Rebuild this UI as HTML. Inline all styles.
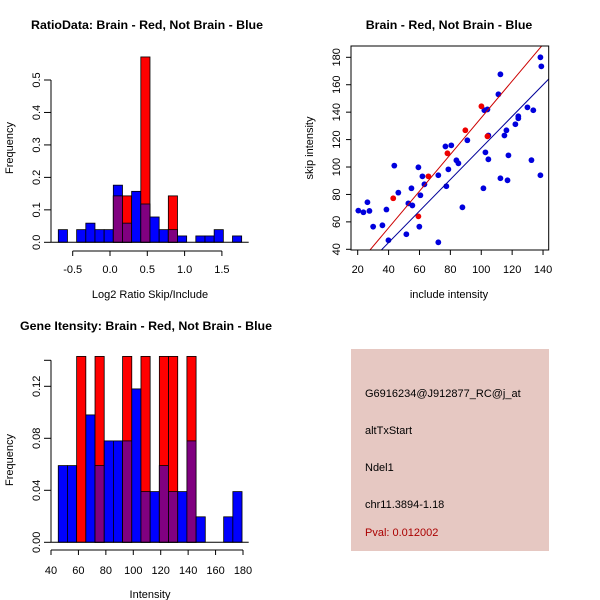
<!DOCTYPE html>
<html><head><meta charset="utf-8"><style>
body{margin:0;background:#fff}
svg{display:block;font-family:"Liberation Sans",sans-serif}
</style></head><body>
<svg id="s" width="600" height="600" viewBox="0 0 600 600">
<rect x="351" y="349" width="198" height="202" fill="#e6c8c2"/>
<g font-size="11" fill="#000">
<text x="365" y="397">G6916234@J912877_RC@j_at</text>
<text x="365" y="434">altTxStart</text>
<text x="365" y="471">Ndel1</text>
<text x="365" y="508">chr11.3894-1.18</text>
<text x="365" y="536" fill="#aa0000">Pval: 0.012002</text>
</g>
<g font-weight="bold" font-size="12.4">
<text x="31" y="29">RatioData: Brain - Red, Not Brain - Blue</text>
<text x="449" y="29" text-anchor="middle">Brain - Red, Not Brain - Blue</text>
<text x="20" y="330">Gene Itensity: Brain - Red, Not Brain - Blue</text>
</g>
<g font-size="11">
<text x="150" y="298" text-anchor="middle">Log2 Ratio Skip/Include</text>
<text x="449" y="298" text-anchor="middle">include intensity</text>
<text x="150" y="598" text-anchor="middle">Intensity</text>
<text transform="translate(13,148) rotate(-90)" text-anchor="middle">Frequency</text>
<text transform="translate(313,148) rotate(-90)" text-anchor="middle">skip intensity</text>
<text transform="translate(13,460) rotate(-90)" text-anchor="middle">Frequency</text>
</g>
</svg>
<script>
// ---- Ratio histogram data ----
const ratioBinStart = -0.693, ratioBinWidth = 0.1229;
const ratioBlue = [0.039,0,0.039,0.059,0.039,0.039,0.176,0.059,0.157,0.118,0.078,0.039,0.039,0.0196,0,0.0196,0.0196,0.039,0,0.0196];
const ratioRed  = [0,0,0,0,0,0,0.143,0.143,0,0.571,0,0,0.143,0,0,0,0,0,0,0];
const ratioXTicks = [-0.5,0.0,0.5,1.0,1.5];
const ratioXLabels = ["-0.5","0.0","0.5","1.0","1.5"];
const ratioYTicks = [0,0.1,0.2,0.3,0.4,0.5];
const ratioYLabels = ["0.0","0.1","0.2","0.3","0.4","0.5"];
// ---- Intensity histogram data ----
const intBinStart = 45.3, intBinWidth = 6.7;
const intBlue = [0.059,0.059,0,0.098,0.059,0.078,0.078,0.078,0.118,0.039,0.039,0.059,0.039,0.039,0.078,0.0196,0,0,0.0196,0.039];
const intRed  = [0,0,0.143,0,0.143,0,0,0.143,0,0.143,0,0.143,0.143,0,0.143,0,0,0,0,0];
const intXTicks = [40,60,80,100,120,140,160,180];
const intYTicks = [0,0.04,0.08,0.12];
const intYLabels = ["0.00","0.04","0.08","0.12"];
// ---- Scatter data ----
const blueX = [20.4,23.7,26.3,27.6,30,36,38.6,39.9,43.7,46.3,51.5,52.8,54.8,55.4,59.3,59.9,60.6,61.9,63.2,72.2,72.2,76.8,77.4,78.7,80.6,83.9,85.2,87.8,91,101.4,102,102.7,104,104.6,104.6,112.4,112.4,111.1,115,116.3,117,117.6,122.1,124,124,129.9,132.5,133.7,138.3,138.3,138.9];
const blueY = [68.2,67,74.3,68,56.5,57.5,69,46.6,101,81.3,51,73.5,84.5,72,99.8,56.5,79.4,93.2,87.4,94,45.1,115,86,98.3,115.8,104.9,102.7,70.6,119.5,84.5,141.4,110.7,142,105.6,123,167.6,91.8,153,123,126.8,90.3,108.5,131.2,137,135.5,143.5,105,141.4,94,180,173.4];
const redX = [43,59.3,65.8,78.1,89.7,100.1,104];
const redY = [77.2,64,93.2,110,126.8,144.3,122.4];
const redFit = [2.1,1.338];   // intercept, slope
const blueFit = [-1.1,1.15];
const scXTicks = [20,40,60,80,100,120,140];
const scYTicks = [40,60,80,100,120,140,160,180];

const NS="http://www.w3.org/2000/svg", svg=document.getElementById('s');
function mk(tag,attrs,parent){const e=document.createElementNS(NS,tag);for(const k in attrs)e.setAttribute(k,attrs[k]);(parent||svg).appendChild(e);return e;}
function txt(x,y,s,anchor,rot){const t=mk('text',{x:x,y:y,'font-size':11,'text-anchor':anchor||'middle'});if(rot)t.setAttribute('transform','rotate(-90 '+x+' '+y+')');t.textContent=s;return t;}

function hist(xs,ys,start,w,blue,red,name){
  for(let i=0;i<blue.length;i++){
    const x0=xs(start+i*w),x1=xs(start+(i+1)*w);
    const layers=[[blue[i],'#0000ff','blue'],[red[i],'#ff0000','red'],[Math.min(blue[i],red[i]),'#800080','overlap']];
    for(const [v,c,k] of layers){ if(v<=0) continue;
      const r=mk('rect',{x:x0,y:ys(v),width:x1-x0,height:ys(0)-ys(v),fill:c,stroke:'#000','stroke-width':0.8});
      
      
    }
  }
}
// Ratio histogram
const rX=v=>72.7+(v+0.5)*74.6, rY=v=>242.3-v*324.6;
hist(rX,rY,ratioBinStart,ratioBinWidth,ratioBlue,ratioRed,'ratio');
mk('line',{x1:51,y1:242.3,x2:248.7,y2:242.3,stroke:'#000'});
mk('line',{x1:rX(-0.5),y1:251,x2:rX(1.5),y2:251,stroke:'#000'});
ratioXTicks.forEach((v,i)=>{mk('line',{x1:rX(v),y1:251,x2:rX(v),y2:256,stroke:'#000'});const t=txt(rX(v),273,ratioXLabels[i]);});
mk('line',{x1:51,y1:rY(0),x2:51,y2:rY(0.5),stroke:'#000'});
ratioYTicks.forEach((v,i)=>{mk('line',{x1:44,y1:rY(v),x2:51,y2:rY(v),stroke:'#000'});const t=txt(40,rY(v),ratioYLabels[i],'middle',true);});

// Intensity histogram
const iX=v=>51+(v-40)*1.3714, iY=v=>542.3-v*1300;
hist(iX,iY,intBinStart,intBinWidth,intBlue,intRed,'intensity');
mk('line',{x1:51,y1:542.3,x2:248.7,y2:542.3,stroke:'#000'});
mk('line',{x1:iX(40),y1:550,x2:iX(180),y2:550,stroke:'#000'});
intXTicks.forEach(v=>{mk('line',{x1:iX(v),y1:550,x2:iX(v),y2:555,stroke:'#000'});const t=txt(iX(v),574,String(v));});
mk('line',{x1:51,y1:iY(0),x2:51,y2:iY(0.14),stroke:'#000'});
[...intYTicks,0.14].forEach(v=>mk('line',{x1:44,y1:iY(v),x2:51,y2:iY(v),stroke:'#000'}));
intYTicks.forEach((v,i)=>{const t=txt(40,iY(v),intYLabels[i],'middle',true);});

// Scatter
const sX=v=>357.7+(v-20)*1.5444, sY=v=>249.3-(v-40)*1.3714;
const L=351,R=548.7,T=46,B=250;
mk('clipPath',{id:'cp'});mk('rect',{x:L,y:T,width:R-L,height:B-T},document.getElementById('cp'));
const pg=mk('g',{'clip-path':'url(#cp)'});
blueX.forEach((v,i)=>{const c=mk('circle',{cx:sX(v),cy:sY(blueY[i]),r:2.9,fill:'#0000dd'},pg);});
redX.forEach((v,i)=>{const c=mk('circle',{cx:sX(v),cy:sY(redY[i]),r:2.9,fill:'#ee0000'},pg);});
[[redFit,'#cc0000','fit-line-red'],[blueFit,'#000099','fit-line-blue']].forEach(([f,c,n])=>{
  const l=mk('line',{x1:sX(0),y1:sY(f[0]),x2:sX(160),y2:sY(f[0]+f[1]*160),stroke:c,'stroke-width':1},pg);
  });
mk('rect',{x:L,y:T,width:R-L,height:B-T,fill:'none',stroke:'#000'});
scXTicks.forEach(v=>{mk('line',{x1:sX(v),y1:B,x2:sX(v),y2:B+5,stroke:'#000'});const t=txt(sX(v),273,String(v));});
scYTicks.forEach(v=>{mk('line',{x1:L-5,y1:sY(v),x2:L,y2:sY(v),stroke:'#000'});const t=txt(340,sY(v),String(v),'middle',true);});
</script>
</body></html>
